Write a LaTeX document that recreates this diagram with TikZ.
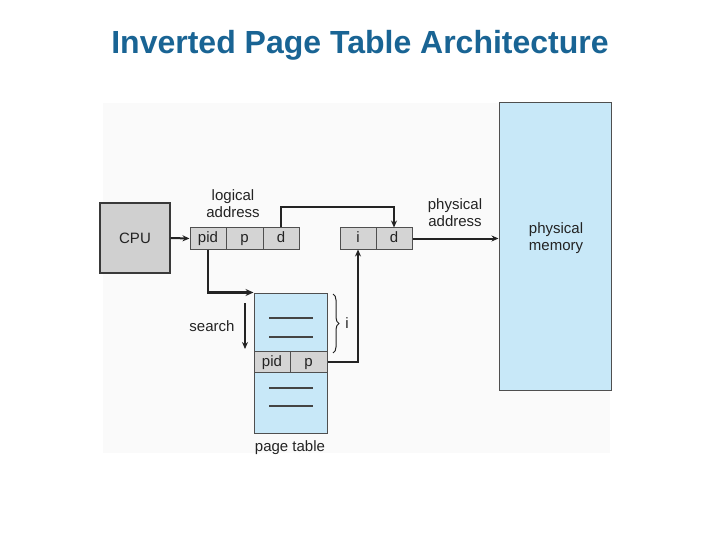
\documentclass[tikz,border=0pt]{standalone}
\usepackage{fontspec}
\setmainfont{Liberation Sans}
\usetikzlibrary{arrows.meta,decorations.pathreplacing}
\definecolor{titleblue}{RGB}{25,100,148}
\definecolor{cellgray}{RGB}{212,212,212}
\definecolor{cpugray}{RGB}{208,208,208}
\definecolor{memblue}{RGB}{200,232,248}
\definecolor{ink}{RGB}{35,35,35}
\definecolor{panel}{RGB}{250,250,250}
\tikzset{
  txt/.style={font=\fontsize{15}{17}\selectfont, text=ink, align=center, inner sep=0pt},
  cell/.style={draw=ink!80, line width=1pt, fill=cellgray, inner sep=0pt, txt, text height=11pt, text depth=2pt},
  bluebox/.style={draw=ink!80, line width=1pt, fill=memblue, inner sep=0pt, txt},
  arr/.style={draw=ink, line width=2pt, -{Stealth[length=7pt,width=6pt]}},
  thickarr/.style={draw=ink, line width=2.8pt, -{Stealth[length=8pt,width=7pt]}},
  tline/.style={draw=ink!85, line width=1.1pt}
}
\begin{document}
\begin{tikzpicture}[x=1pt,y=-1pt]
\useasboundingbox (0,0) rectangle (720,540);
\fill[white] (0,0) rectangle (720,540);
\fill[panel] (103,103) rectangle (610,453);
% title
\node[font=\fontsize{32}{36}\bfseries, text=titleblue, inner sep=0pt] (title) at (360,45) {Inverted Page Table Architecture};
% CPU
\node[cell, fill=cpugray, draw=ink!90, line width=1.3pt, minimum width=70pt, minimum height=70pt, text height=, text depth=] (cpu) at (135,238) {CPU};
% logical address
\node[cell, minimum width=36pt, minimum height=21pt] (pid) at (208,238.5) {pid};
\node[cell, minimum width=37pt, minimum height=21pt] (p) at (244.5,238.5) {p};
\node[cell, minimum width=36pt, minimum height=21pt] (d) at (281,238.5) {d};
\node[txt] (la) at (233,203.5) {logical\\address};
% physical address
\node[cell, minimum width=36pt, minimum height=21pt] (i) at (358,238.5) {i};
\node[cell, minimum width=36pt, minimum height=21pt] (d2) at (394,238.5) {d};
\node[txt] (pa) at (455,213) {physical\\address};
% physical memory
\node[bluebox, minimum width=112pt, minimum height=287pt] (mem) at (555,246.5) {};
\node[txt] (memlabel) at (556,238) {physical\\memory};
% page table
\node[bluebox, minimum width=73pt, minimum height=140pt] (pt) at (290.5,363) {};
\node[cell, minimum width=36pt, minimum height=21pt] (pid2) at (272,361.5) {pid};
\node[cell, minimum width=37pt, minimum height=21pt] (p2) at (308.5,361.5) {p};
\draw[tline] (269,318) -- (313,318);
\draw[tline] (269,337) -- (313,337);
\draw[tline] (269,388) -- (313,388);
\draw[tline, line width=2pt] (269,406) -- (313,406);
\node[txt] (ptl) at (290,448) {page table};
% search
\node[txt] (search) at (212,326) {search};
\coordinate (s1) at (245,303);
\coordinate (s2) at (245,349);
\draw[arr] (s1) -- (s2);
% brace
\draw[draw=ink, line width=1pt, decorate, decoration={brace, amplitude=6pt}] (333,294) -- (333,353);
\node[txt] (ilabel) at (347,323) {i};
% connectors
\draw[arr] (cpu.east) -- (pid.west);
\draw[arr] (d.north) -- ++(0,-20) -| (d2.north);
\draw[thickarr] (pid.south) |- (pt.north west);
\draw[arr] (p2.east) -| (i.south);
\draw[arr] (d2.east) -- (mem.west |- d2.east);
\end{tikzpicture}
\end{document}
